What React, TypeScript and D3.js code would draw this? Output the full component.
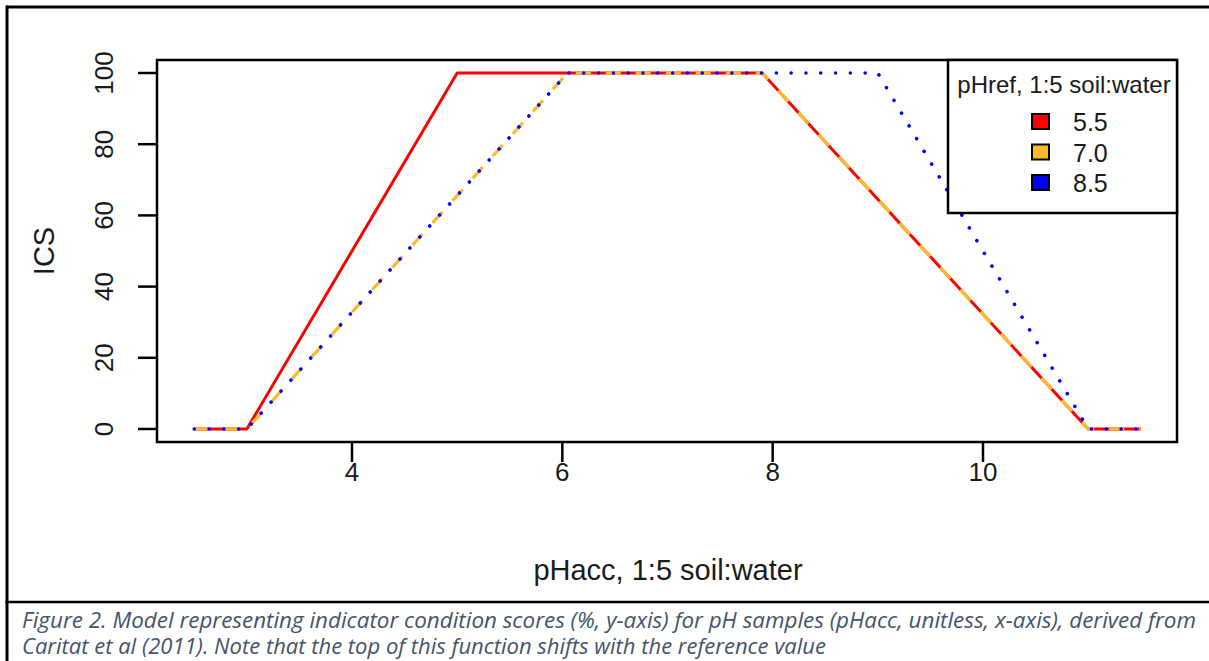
import React from "react";
import * as d3 from "d3";

const xTicks = [4, 6, 8, 10];
const yTicks = [0, 20, 40, 60, 80, 100];
const seriesNames = ["5.5", "7.0", "8.5"];
const seriesColors = ["#FF0000", "#FFB92C", "#0000FF"];
const x55 = [2.5, 3, 5, 7.9, 11, 11.5];
const y55 = [0, 0, 100, 100, 0, 0];
const x70 = [2.5, 3, 6.05, 7.9, 11, 11.5];
const y70 = [0, 0, 100, 100, 0, 0];
const x85 = [2.5, 3, 6.05, 9, 11, 11.5];
const y85 = [0, 0, 100, 100, 0, 0];
const legendTitle = "pHref, 1:5 soil:water";
const xTitle = "pHacc, 1:5 soil:water";
const yTitle = "ICS";
const caption1 = "Figure 2. Model representing indicator condition scores (%, y-axis) for pH samples (pHacc, unitless, x-axis), derived from";
const caption2 = "Caritat et al (2011). Note that the top of this function shifts with the reference value";

export default function App() {
  const x = d3.scaleLinear().domain([4, 10]).range([352, 983]);
  const y = d3.scaleLinear().domain([0, 100]).range([429, 73]);
  const line = d3.line<[number, number]>().x((d) => x(d[0])).y((d) => y(d[1]));
  const pts = (xs: number[], ys: number[]) => xs.map((v, i) => [v, ys[i]] as [number, number]);
  const box = { l: 157, t: 60, r: 1177, b: 442 };
  const font = "'Liberation Sans', Arial, sans-serif";
  const txt = "#1a1a1a";
  return (
    <svg
      width={1209}
      height={661}
      style={{ position: "absolute", left: 0, top: 0, background: "#fff" }}
    >
      <rect x={0} y={0} width={1209} height={661} fill="#fff" />
      {/* outer frame */}
      <line x1={7} y1={7} x2={1209} y2={7} stroke="#000" strokeWidth={3} />
      <line x1={7} y1={5.5} x2={7} y2={661} stroke="#000" strokeWidth={3} />
      <line x1={5.5} y1={602} x2={1209} y2={602} stroke="#000" strokeWidth={2.5} />
      {/* plot box */}
      <rect x={box.l} y={box.t} width={box.r - box.l} height={box.b - box.t} fill="none" stroke="#000" strokeWidth={2.5} />
      {/* x ticks */}
      {xTicks.map((t) => (
        <g key={"x" + t}>
          <line x1={x(t)} x2={x(t)} y1={box.b} y2={box.b + 20} stroke="#000" strokeWidth={2.5} />
          <text x={x(t)} y={481} textAnchor="middle" fontFamily={font} fontSize={26} fill={txt}>
            {t}
          </text>
        </g>
      ))}
      {yTicks.map((t) => (
        <g key={"y" + t}>
          <line x1={box.l - 19} x2={box.l} y1={y(t)} y2={y(t)} stroke="#000" strokeWidth={2.5} />
          <text
            transform={`translate(${113},${y(t)}) rotate(-90)`}
            textAnchor="middle"
            fontFamily={font}
            fontSize={26}
            fill={txt}
          >
            {t}
          </text>
        </g>
      ))}
      <text x={668} y={580} textAnchor="middle" fontFamily={font} fontSize={29} fill={txt}>
        {xTitle}
      </text>
      <text transform={`translate(54,251) rotate(-90)`} textAnchor="middle" fontFamily={font} fontSize={29} fill={txt}>
        {yTitle}
      </text>
      {/* lines */}
      <path d={line(pts(x55, y55)) || ""} fill="none" stroke={seriesColors[0]} strokeWidth={3} strokeLinejoin="round" />
      <path d={line(pts(x70, y70)) || ""} fill="none" stroke={seriesColors[1]} strokeWidth={3.2} strokeDasharray="15,15" />
      <path
        d={line(pts(x85, y85)) || ""}
        fill="none"
        stroke={seriesColors[2]}
        strokeWidth={3.6}
        strokeLinecap="round"
        strokeDasharray="0.01,14.8"
      />
      {/* legend */}
      <rect x={948} y={box.t} width={box.r - 948} height={213 - box.t} fill="#fff" stroke="#000" strokeWidth={2.5} />
      <text x={1064} y={93} textAnchor="middle" fontFamily={font} fontSize={24} fill={txt}>
        {legendTitle}
      </text>
      {seriesNames.map((n, i) => (
        <g key={n}>
          <rect x={1032} y={114 + i * 30.5} width={17} height={15} fill={seriesColors[i]} stroke="#000" strokeWidth={2} />
          <text x={1073} y={131 + i * 30.5} fontFamily={font} fontSize={25} fill={txt}>
            {n}
          </text>
        </g>
      ))}
      {/* caption */}
      <text
        x={22}
        y={628}
        fontFamily="'Open Sans', sans-serif"
        fontStyle="italic"
        fontSize={21}
        fill="#44546A"
        textLength={1174}
        lengthAdjust="spacingAndGlyphs"
      >
        {caption1}
      </text>
      <text
        x={22}
        y={654}
        fontFamily="'Open Sans', sans-serif"
        fontStyle="italic"
        fontSize={21}
        fill="#44546A"
        textLength={804}
        lengthAdjust="spacingAndGlyphs"
      >
        {caption2}
      </text>
    </svg>
  );
}
